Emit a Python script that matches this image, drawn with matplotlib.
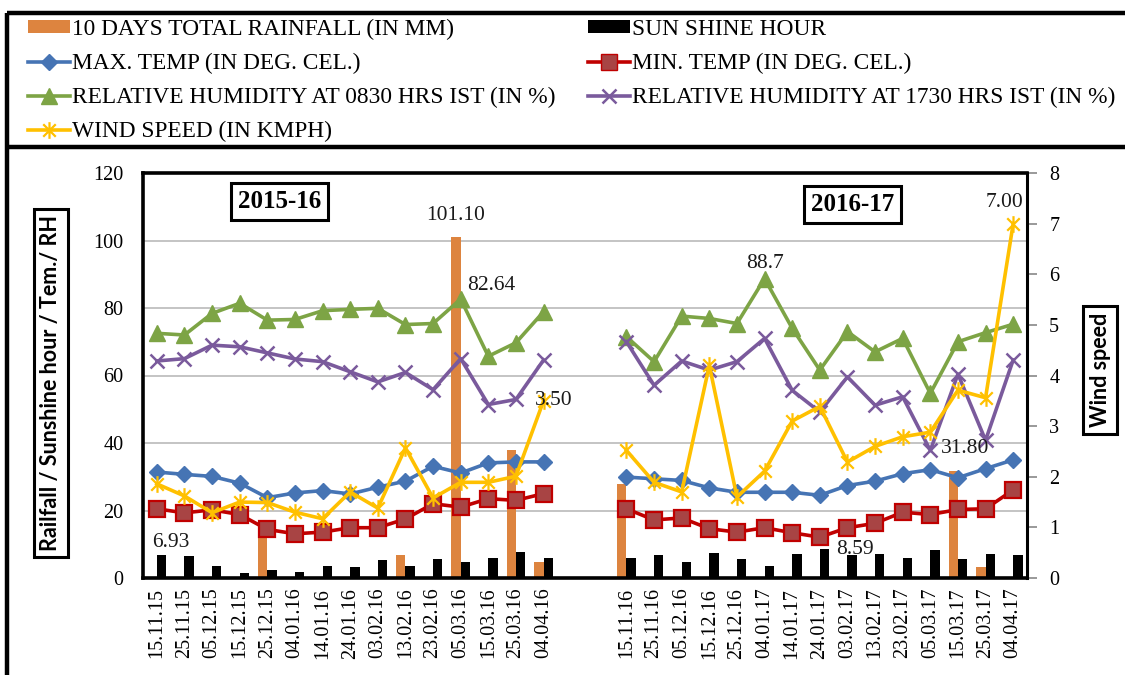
import numpy as np
import matplotlib
matplotlib.use("Agg")
import matplotlib.pyplot as plt
from matplotlib.path import Path
from matplotlib.lines import Line2D
from matplotlib.patches import Patch

# ---- data -------------------------------------------------------------
dates_1516 = ["15.11.15", "25.11.15", "05.12.15", "15.12.15", "25.12.15",
              "04.01.16", "14.01.16", "24.01.16", "03.02.16", "13.02.16",
              "23.02.16", "05.03.16", "15.03.16", "25.03.16", "04.04.16"]
dates_1617 = ["15.11.16", "25.11.16", "05.12.16", "15.12.16", "25.12.16",
              "04.01.17", "14.01.17", "24.01.17", "03.02.17", "13.02.17",
              "23.02.17", "05.03.17", "15.03.17", "25.03.17", "04.04.17"]

rain_1516 = [0, 0, 0, 0, 12.8, 0, 0, 0.3, 0, 6.7, 0, 101.10, 0, 37.9, 4.7]
rain_1617 = [28.0, 0, 0, 0, 0, 0, 0, 0, 0, 0, 0, 0, 31.80, 3.2, 0]

sun_1516 = [6.93, 6.4, 3.5, 1.4, 2.4, 1.7, 3.5, 3.2, 5.2, 3.5, 5.5, 4.7, 5.8, 7.6, 5.8]
sun_1617 = [6.0, 6.8, 4.8, 7.5, 5.7, 3.7, 7.2, 8.59, 6.8, 7.1, 6.0, 8.3, 5.7, 7.1, 6.8]

tmax_1516 = [31.4, 30.7, 30.1, 28.1, 23.8, 25.2, 25.9, 24.9, 26.9, 28.7, 33.1, 31.1, 34.1, 34.4, 34.4]
tmax_1617 = [29.9, 29.4, 28.9, 26.7, 25.4, 25.4, 25.4, 24.5, 27.4, 28.7, 30.9, 32.1, 29.7, 32.4, 35.0]

tmin_1516 = [20.5, 19.3, 20.2, 18.8, 14.4, 13.1, 13.6, 14.9, 14.9, 17.5, 22.0, 21.0, 23.5, 23.0, 25.0]
tmin_1617 = [20.5, 17.2, 17.8, 14.6, 13.6, 14.9, 13.4, 12.1, 14.9, 16.2, 19.5, 18.8, 20.3, 20.5, 26.1]

rh830_1516 = [72.5, 72.0, 78.4, 81.4, 76.4, 76.6, 79.2, 79.6, 79.9, 75.1, 75.4, 82.64, 65.7, 69.7, 78.9]
rh830_1617 = [71.5, 64.1, 77.6, 76.9, 75.4, 88.7, 74.0, 61.6, 73.0, 67.0, 71.0, 54.7, 70.0, 72.7, 75.2]

rh1730_1516 = [64.3, 65.0, 69.0, 68.5, 66.7, 64.9, 64.1, 61.1, 58.1, 60.9, 55.8, 65.0, 51.4, 52.9, 64.6]
rh1730_1617 = [70.0, 57.1, 64.3, 61.6, 64.1, 71.0, 55.6, 49.2, 59.6, 51.2, 53.7, 37.8, 60.4, 40.8, 64.6]

wind_1516 = [1.86, 1.62, 1.29, 1.50, 1.49, 1.30, 1.17, 1.70, 1.38, 2.57, 1.58, 1.89, 1.89, 2.01, 3.50]
wind_1617 = [2.52, 1.89, 1.70, 4.20, 1.60, 2.11, 3.10, 3.39, 2.29, 2.60, 2.79, 2.88, 3.71, 3.56, 7.00]

seasons = ["2015-16", "2016-17"]
gap_slots = 2

# ---- style --------------------------------------------------------------
SERIF = ["Liberation Serif", "DejaVu Serif"]
SANS = ["Lato", "DejaVu Sans"]
plt.rcParams["font.family"] = SERIF

C_RAIN = "#DD843F"
C_SUN = "#000000"
C_MAX = "#4674B4"
C_MIN = "#C00000"
C_MIN_FACE = "#A84444"
C_RH1 = "#7DA445"
C_RH2 = "#7A5A9C"
C_WIND = "#FFC000"
C_GRID = "#BFBFBF"

star_path = Path([(0, -1), (0, 1), (-0.75, -0.75), (0.75, 0.75), (-0.75, 0.75), (0.75, -0.75)],
                 [Path.MOVETO, Path.LINETO, Path.MOVETO, Path.LINETO, Path.MOVETO, Path.LINETO])

n = len(dates_1516)
pos_a = np.arange(n)
pos_b = np.arange(n) + n + gap_slots
n_total = 2 * n + gap_slots
tick_labels = dates_1516 + [""] * gap_slots + dates_1617

fig = plt.figure(figsize=(11.25, 6.75), dpi=100)
ax = fig.add_axes([143 / 1125, 97 / 675, 884 / 1125, 405 / 675])
ax2 = ax.twinx()

bw = 0.34
line_kw = dict(lw=2.6, zorder=4)

for pos, rain, sun in ((pos_a, rain_1516, sun_1516), (pos_b, rain_1617, sun_1617)):
    ax.bar(pos - bw / 2, rain, width=bw, color=C_RAIN, zorder=2)
    ax.bar(pos + bw / 2, sun, width=bw, color=C_SUN, zorder=2)

for pos, tmax, tmin, rh1, rh2 in ((pos_a, tmax_1516, tmin_1516, rh830_1516, rh1730_1516),
                                  (pos_b, tmax_1617, tmin_1617, rh830_1617, rh1730_1617)):
    ax.plot(pos, tmax, color=C_MAX, marker="D", ms=8, mec=C_MAX, mfc=C_MAX, **line_kw)
    ax.plot(pos, tmin, color=C_MIN, marker="s", ms=11, mec=C_MIN, mfc=C_MIN_FACE, mew=1.6, **line_kw)
    ax.plot(pos, rh1, color=C_RH1, marker="^", ms=11, mec=C_RH1, mfc=C_RH1, **line_kw)
    ax.plot(pos, rh2, color=C_RH2, marker="x", ms=10, mew=1.8, mec=C_RH2, **line_kw)

for pos, wind in ((pos_a, wind_1516), (pos_b, wind_1617)):
    ax2.plot(pos, wind, color=C_WIND, marker=star_path, ms=12, mew=1.6, mec=C_WIND,
             mfc="none", **line_kw)

# ---- axes ---------------------------------------------------------------
ax.set_xlim(-0.5, n_total - 0.5)
ax.set_ylim(0, 120)
ax.set_yticks(np.arange(0, 121, 20))
ax.yaxis.grid(True, color=C_GRID, lw=1.3, zorder=0)
ax.set_axisbelow(True)
ax.set_xticks(np.arange(n_total))
ax.set_xticklabels(tick_labels, rotation=90, fontsize=14.5)
ax.tick_params(axis="x", length=0, pad=7)
ax.tick_params(axis="y", length=0, pad=14, labelsize=14.5)

ax2.set_ylim(0, 8)
ax2.set_yticks(np.arange(0, 9, 1))
ax2.tick_params(axis="y", length=7, width=1.2, color="#888888", pad=9, labelsize=14.5)

for side in ("left", "top", "bottom"):
    ax.spines[side].set_linewidth(2.6)
    ax.spines[side].set_color("black")
    ax2.spines[side].set_visible(False)
ax.spines["right"].set_visible(False)
ax2.spines["right"].set_linewidth(2.2)
ax2.spines["right"].set_color("black")

# ---- data labels --------------------------------------------------------
lab_kw = dict(textcoords="offset points", ha="center", va="center", fontsize=15.5,
              color="#1a1a1a", zorder=6)
ax.annotate(f"{rain_1516[11]:.2f}", (pos_a[11] - bw / 2, rain_1516[11]), xytext=(0, 15), **lab_kw)
ax.annotate(f"{rh830_1516[11]:.2f}", (pos_a[11], rh830_1516[11]), xytext=(22, 10), **lab_kw)
ax.annotate(f"{sun_1516[0]:.2f}", (pos_a[0] + bw / 2, sun_1516[0]), xytext=(6.5, 9), **lab_kw)
ax.annotate(f"{rh830_1617[5]:.1f}", (pos_b[5], rh830_1617[5]), xytext=(0, 11), **lab_kw)
ax.annotate(f"{rain_1617[12]:.2f}", (pos_b[12] - bw / 2, rain_1617[12]), xytext=(8.6, 16), **lab_kw)
ax.annotate(f"{sun_1617[7]:.2f}", (pos_b[7] + bw / 2, sun_1617[7]), xytext=(22, 0), **lab_kw)
ax2.annotate(f"{wind_1516[-1]:.2f}", (pos_a[-1], wind_1516[-1]), xytext=(7, 0), **lab_kw)
ax2.annotate(f"{wind_1617[-1]:.2f}", (pos_b[-1], wind_1617[-1]), xytext=(-6, 15), **lab_kw)

# season boxes
box_kw = dict(boxstyle="square,pad=0.28", fc="white", ec="black", lw=2.2)
ax.text(0.1544, 0.9296, seasons[0], transform=ax.transAxes, ha="center", va="center",
        fontsize=18, fontweight="bold", bbox=box_kw, zorder=7)
ax.text(0.8026, 0.922, seasons[1], transform=ax.transAxes, ha="center", va="center",
        fontsize=18, fontweight="bold", bbox=box_kw, zorder=7)

# axis titles in boxes
title_box = dict(boxstyle="square,pad=0.3", fc="white", ec="black", lw=2.2)
fig.text(0.0453, 0.4326, "Railfall / Sunshine hour / Tem./ RH", rotation=90,
         ha="center", va="center", fontsize=15.5, fontweight="bold",
         family=SANS, bbox=title_box)
fig.text(0.9778, 0.4519, "Wind speed", rotation=90, ha="center", va="center",
         fontsize=15.5, fontweight="bold", family=SANS, bbox=title_box)

# ---- legend -------------------------------------------------------------
h_rain = Patch(facecolor=C_RAIN, edgecolor="none")
h_sun = Patch(facecolor=C_SUN, edgecolor="none")
h_max = Line2D([], [], color=C_MAX, marker="D", ms=8, lw=2.6)
h_min = Line2D([], [], color=C_MIN, marker="s", ms=11, mfc=C_MIN_FACE, mec=C_MIN, lw=2.6)
h_rh1 = Line2D([], [], color=C_RH1, marker="^", ms=11, lw=2.6)
h_rh2 = Line2D([], [], color=C_RH2, marker="x", ms=10, mew=1.8, lw=2.6)
h_wind = Line2D([], [], color=C_WIND, marker=star_path, ms=12, mew=1.6, mfc="none", lw=2.6)

handles = [h_rain, h_max, h_rh1, h_wind, h_sun, h_min, h_rh2]
labels = ["10 DAYS TOTAL RAINFALL (IN MM)", "MAX. TEMP (IN DEG. CEL.)",
          "RELATIVE HUMIDITY AT 0830 HRS IST (IN %)", "WIND SPEED (IN KMPH)",
          "SUN SHINE HOUR", "MIN. TEMP (IN DEG. CEL.)",
          "RELATIVE HUMIDITY AT 1730 HRS IST (IN %)"]
fig.legend(handles, labels, loc="upper left", bbox_to_anchor=(23 / 1125, 1 - 14 / 675),
           ncol=2, frameon=False, fontsize=16.8, handlelength=1.8, handleheight=0.45,
           handletextpad=0.1, columnspacing=1.38, labelspacing=0.56, borderpad=0.2,
           borderaxespad=0)

# ---- outer frame --------------------------------------------------------
frame_kw = dict(transform=fig.transFigure, color="black", lw=3.2, solid_capstyle="butt")
fig.add_artist(Line2D([7 / 1125, 1], [1 - 13 / 675] * 2, **frame_kw))
fig.add_artist(Line2D([7 / 1125, 1], [1 - 147 / 675] * 2, **frame_kw))
fig.add_artist(Line2D([7 / 1125] * 2, [0, 1 - 13 / 675], **frame_kw))

fig.savefig("out.png", dpi=100)
